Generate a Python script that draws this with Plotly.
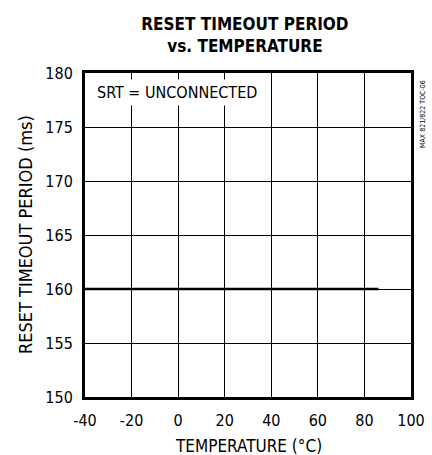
import plotly.graph_objects as go

temp = [-40, -20, 0, 20, 40, 60, 80, 86]
period = [160, 160, 160, 160, 160, 160, 160, 160]
x_ticks = [-40, -20, 0, 20, 40, 60, 80, 100]
x_tick_labels = ["-40", "-20", "0", "20", "40", "60", "80", "100"]
y_ticks = [150, 155, 160, 165, 170, 175, 180]

FONT = "Liberation Sans Narrow, DejaVu Sans Condensed, Arial Narrow, Liberation Sans, sans-serif"

fig = go.Figure()
fig.add_trace(go.Scatter(x=temp, y=period, mode="lines",
                         line=dict(color="black", width=2.5), showlegend=False,
                         hoverinfo="skip"))

fig.update_layout(
    width=432, height=455,
    margin=dict(l=85, r=21, t=73, b=58, autoexpand=False),
    paper_bgcolor="white", plot_bgcolor="white",
    font=dict(family=FONT, size=16, color="black"),
    title=dict(text="<b>RESET TIMEOUT PERIOD<br>vs. TEMPERATURE</b>",
               x=0.567, xanchor="center", y=0.935, yanchor="top",
               font=dict(family=FONT, size=17, color="black"), automargin=False),
    xaxis=dict(range=[-40, 100], tickvals=x_ticks, ticktext=x_tick_labels,
               showgrid=True, automargin=False,
               gridcolor="black", gridwidth=1, zeroline=False,
               showline=True, linecolor="black", linewidth=3, mirror=True,
               ticks="", ticklabelstandoff=7, tickfont=dict(size=16)),
    yaxis=dict(range=[150, 180], tickvals=y_ticks, showgrid=True, automargin=False,
               gridcolor="black", gridwidth=1, zeroline=False,
               showline=True, linecolor="black", linewidth=3, mirror=True,
               ticks="", ticklabelstandoff=6, tickfont=dict(size=16)),
    annotations=[
        dict(text="TEMPERATURE (°C)", xref="paper", yref="paper",
             x=0.5, y=-0.151, xanchor="center", yanchor="middle", showarrow=False,
             font=dict(family=FONT, size=17, color="black")),
        dict(text="RESET TIMEOUT PERIOD (ms)", xref="paper", yref="paper",
             x=-0.184, y=0.5, textangle=-90, xanchor="center", yanchor="middle",
             showarrow=False, font=dict(family=FONT, size=18, color="black")),
        dict(text="SRT = UNCONNECTED", xref="x", yref="y", x=-36.5, y=178.15,
             xanchor="left", yanchor="middle", showarrow=False,
             bgcolor="white", borderpad=3,
             font=dict(family=FONT, size=16, color="black")),
        dict(text="MAX 821/822 TOC-06", xref="paper", yref="paper",
             x=1.035, y=0.875, textangle=-90, showarrow=False,
             xanchor="center", yanchor="middle",
             font=dict(family=FONT, size=7, color="black")),
    ],
)

fig.write_html("out.html", config={"displayModeBar": False},
               post_script="document.body.style.margin='0';")
